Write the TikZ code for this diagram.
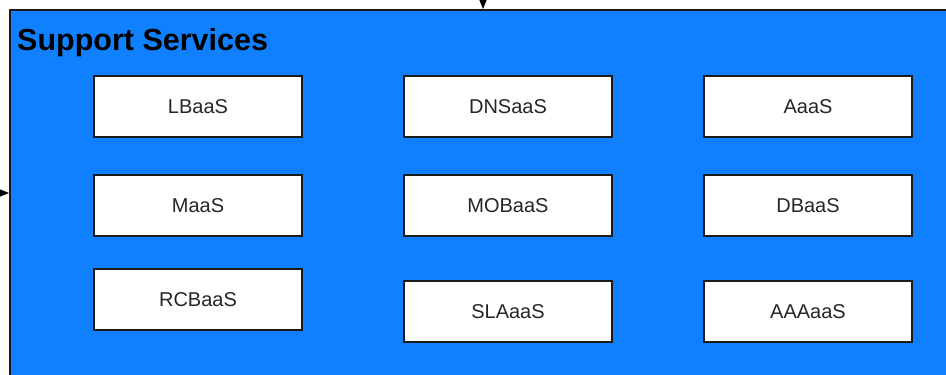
\documentclass[tikz,border=0pt]{standalone}
\usepackage{fontspec}
\setmainfont{Liberation Sans}
\usetikzlibrary{arrows.meta}
\definecolor{svcblue}{HTML}{1180FF}
\definecolor{edge}{HTML}{1A1A1A}
\tikzset{
  svcbox/.style={draw=edge, line width=1.5pt, fill=white, minimum width=208pt, minimum height=61pt, inner sep=0pt, font=\fontsize{20}{24}\selectfont, text=black!85},
  conn/.style={draw=black, line width=1pt, -{Triangle[length=9pt,width=7pt]}}
}
\begin{document}
\begin{tikzpicture}[x=1pt,y=-1pt]
\useasboundingbox (0,0) rectangle (946,375);
\fill[white] (0,0) rectangle (946,375);
\node[draw=edge, line width=2pt, fill=svcblue, minimum width=960pt, minimum height=400pt, inner sep=0pt, anchor=north west] (support) at (9,9) {};
\node[anchor=base west, inner sep=0pt, font=\bfseries\fontsize{30.5}{36}\selectfont] (title) at (17,50) {Support Services};
\node[svcbox] (lbaas) at (198,106.5) {LBaaS};
\node[svcbox] (maas) at (198,205.5) {MaaS};
\node[svcbox] (rcbaas) at (198,299.5) {RCBaaS};
\node[svcbox] (dnsaas) at (508,106.5) {DNSaaS};
\node[svcbox] (mobaas) at (508,205.5) {MOBaaS};
\node[svcbox] (slaaas) at (508,311.5) {SLAaaS};
\node[svcbox] (aaas) at (808,106.5) {AaaS};
\node[svcbox] (dbaas) at (808,205.5) {DBaaS};
\node[svcbox] (aaaaas) at (808,311.5) {AAAaaS};
\coordinate (topsrc) at (483,-5);
\coordinate (leftsrc) at (-5,193);
\draw[conn] (topsrc) -- (topsrc |- support.north);
\draw[conn] (leftsrc) -- (leftsrc -| support.west);
\end{tikzpicture}
\end{document}
